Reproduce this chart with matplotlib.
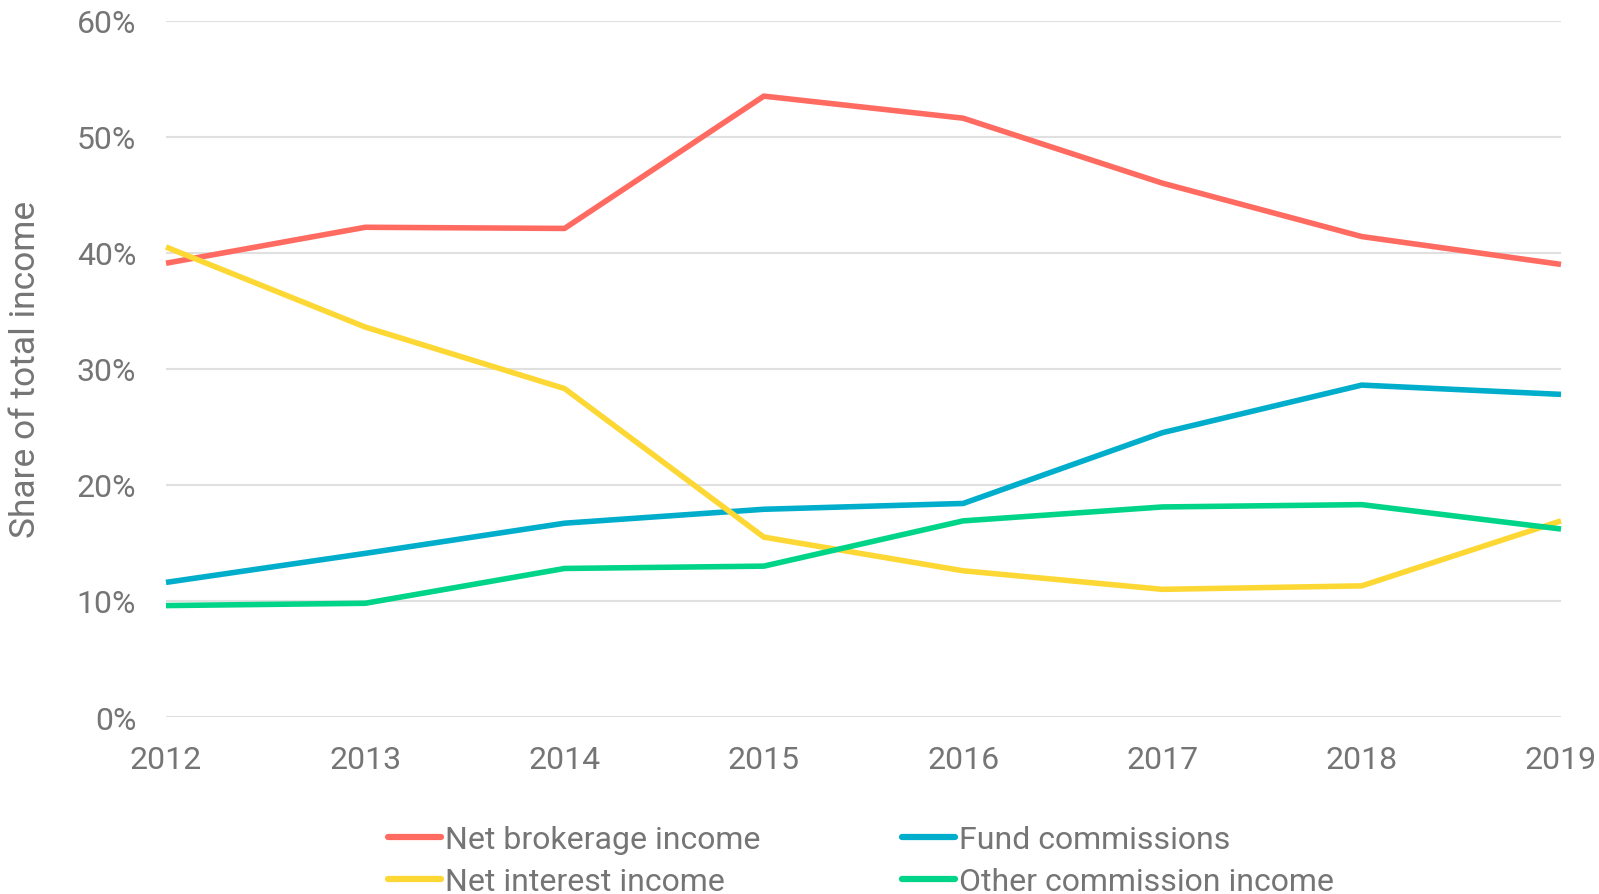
import matplotlib
matplotlib.use("Agg")
import matplotlib.pyplot as plt
from matplotlib.ticker import FuncFormatter

years = [2012, 2013, 2014, 2015, 2016, 2017, 2018, 2019]
net_brokerage = [39.1, 42.2, 42.1, 53.5, 51.6, 46.0, 41.4, 39.0]
fund_commissions = [11.6, 14.1, 16.7, 17.9, 18.4, 24.5, 28.6, 27.8]
net_interest = [40.5, 33.6, 28.3, 15.5, 12.6, 11.0, 11.3, 16.9]
other_commission = [9.6, 9.8, 12.8, 13.0, 16.9, 18.1, 18.3, 16.2]
y_ticks = [0, 10, 20, 30, 40, 50, 60]

plt.rcParams['font.family'] = ['Roboto', 'DejaVu Sans']
grey = '#757575'

fig = plt.figure(figsize=(15.99, 8.95), dpi=100)
ax = fig.add_axes([166/1599, 1-718/895, (1561-166)/1599, (718-21.7)/895])

lw = 4.0
l1, = ax.plot(years, net_brokerage, color='#FF6B61', lw=lw, label='Net brokerage income', clip_on=False, solid_capstyle='butt')
l2, = ax.plot(years, fund_commissions, color='#00AECC', lw=lw, label='Fund commissions', clip_on=False, solid_capstyle='butt')
l3, = ax.plot(years, net_interest, color='#FDD835', lw=lw, label='Net interest income', clip_on=False, solid_capstyle='butt')
l4, = ax.plot(years, other_commission, color='#00D489', lw=lw, label='Other commission income', clip_on=False, solid_capstyle='butt')
for l in (l1, l3, l2, l4):
    l.set_zorder(3)

ax.set_xlim(2012, 2019)
ax.set_ylim(0, 60)
ax.set_yticks(y_ticks)
ax.set_xticks(years)
ax.yaxis.set_major_formatter(FuncFormatter(lambda v, p: f"{v:.0f}%"))
ax.grid(axis='y', color='#e0e0e0', lw=1.5)
ax.set_axisbelow(True)
for s in ax.spines.values():
    s.set_visible(False)
ax.tick_params(axis='y', length=0, pad=21.5, labelsize=23, labelcolor=grey)
ax.tick_params(axis='x', length=0, pad=20, labelsize=23, labelcolor=grey)
ax.set_ylabel('Share of total income', fontsize=25.5, color=grey, labelpad=25)

leg = fig.legend(handles=[l1, l3, l2, l4], loc='upper left', ncol=2,
                 bbox_to_anchor=(388/1599, 1-826/895), frameon=False,
                 fontsize=23, labelcolor=grey, handlelength=1.66, handletextpad=0.12,
                 columnspacing=4.45, labelspacing=0.4, borderpad=0, borderaxespad=0)
for h in leg.get_lines():
    h.set_linewidth(4.5)
    h.set_solid_capstyle('round')

fig.savefig('out.png', dpi=100)
